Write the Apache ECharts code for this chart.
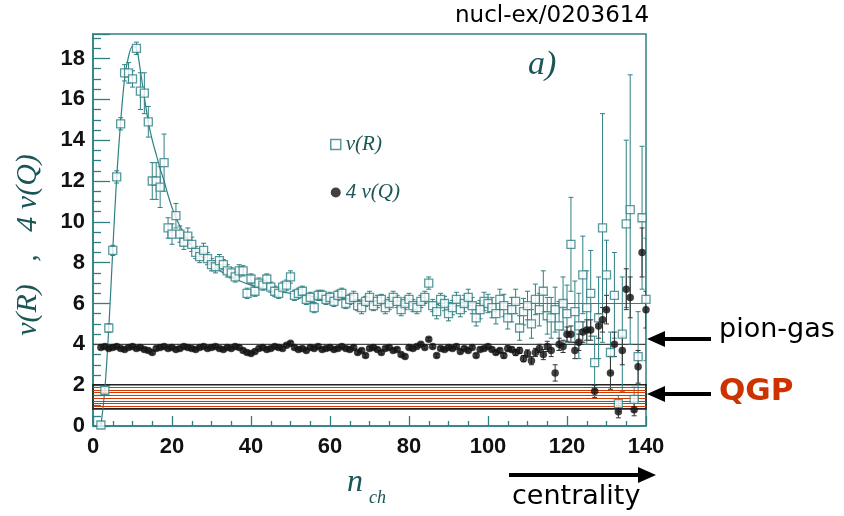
<!DOCTYPE html>
<html>
<head>
<meta charset="utf-8">
<script src="https://cdn.jsdelivr.net/npm/echarts@6/dist/echarts.min.js"></script>
<style>
html,body{margin:0;padding:0;background:#fff}
#chart{width:844px;height:516px}
</style>
</head>
<body>
<div id="chart"></div>
<script>
// n_ch bins (2..140)
const nCh = [
  2,3,4,5,6,7,8,9,10,11, 12,13,14,15,16,17,18,19,20,21,
  22,23,24,25,26,27,28,29,30,31, 32,33,34,35,36,37,38,39,40,41,
  42,43,44,45,46,47,48,49,50,51, 52,53,54,55,56,57,58,59,60,61,
  62,63,64,65,66,67,68,69,70,71, 72,73,74,75,76,77,78,79,80,81,
  82,83,84,85,86,87,88,89,90,91, 92,93,94,95,96,97,98,99,100,101,
  102,103,104,105,106,107,108,109,110,111, 112,113,114,115,116,117,118,119,120,121,
  122,123,124,125,126,127,128,129,130,131, 132,133,134,135,136,137,138,139,140
];
// v(R)
const vR = [
  0.05,1.75,4.8,8.6,12.2,14.8,17.3,17.3,17.0,18.5, 16.4,16.3,14.9,12.0,12.0,11.7,12.9,9.7,9.4,10.3,
  9.4,9.0,9.3,8.9,8.5,8.3,8.6,8.2,7.9,7.8, 8.1,7.9,7.6,7.5,7.3,7.6,7.6,6.5,7.2,6.6,
  7.0,6.9,7.2,6.8,6.6,6.5,6.8,6.9,7.3,6.4, 6.5,6.6,6.2,6.3,5.8,6.4,6.4,6.2,6.3,6.1,
  6.4,6.5,6.0,6.2,6.3,5.9,5.8,6.1,6.3,5.9, 6.1,6.2,5.8,6.0,6.3,6.1,5.7,6.0,6.2,5.9,
  5.8,6.1,6.3,7.0,5.9,5.6,6.2,6.0,5.5,5.8, 6.2,5.7,6.0,6.3,5.9,5.3,5.7,6.1,6.0,5.8,
  5.5,6.2,5.9,5.3,5.7,6.1,4.8,5.6,5.9,5.0, 6.2,5.7,6.6,5.4,5.3,5.7,4.9,6.0,5.5,8.9,
  5.6,4.9,7.4,5.8,6.5,3.1,5.3,9.7,7.4,3.6, 6.4,1.1,4.5,9.9,10.6,1.3,3.4,10.2,6.2
];
const errR = [
  0.1,0.15,0.2,0.25,0.3,0.3,0.4,0.5,0.4,0.3, 0.9,1.0,0.75,0.9,0.9,1.0,1.4,0.5,0.5,0.6,
  0.4,0.35,0.4,0.35,0.3,0.3,0.35,0.3,0.3,0.3, 0.3,0.25,0.3,0.25,0.25,0.3,0.25,0.25,0.25,0.25,
  0.25,0.25,0.25,0.25,0.25,0.25,0.25,0.25,0.3,0.25, 0.25,0.25,0.25,0.25,0.25,0.25,0.25,0.25,0.25,0.25,
  0.25,0.25,0.25,0.25,0.3,0.25,0.3,0.25,0.3,0.25, 0.3,0.25,0.3,0.3,0.3,0.3,0.3,0.3,0.3,0.3,
  0.3,0.3,0.3,0.3,0.3,0.35,0.3,0.35,0.35,0.35, 0.35,0.35,0.4,0.4,0.4,0.4,0.45,0.45,0.45,0.5,
  0.5,0.5,0.55,0.55,0.6,0.6,0.6,0.65,0.7,0.7, 0.75,0.8,1.0,0.9,1.0,1.1,1.2,1.3,1.4,2.3,
  1.5,1.6,1.9,1.8,2.1,1.3,2.0,5.6,1.7,1.0, 2.1,0.4,2.8,4.1,6.6,0.6,2.2,3.5,3.0
];
// 4 v(Q)
const vQ4 = [
  3.85,3.9,3.8,3.85,3.9,3.8,3.75,3.85,3.9,3.8, 3.85,3.75,3.7,3.6,3.8,3.85,3.9,3.8,3.85,3.75,
  3.8,3.9,3.85,3.8,3.75,3.85,3.9,3.8,3.85,3.9, 3.8,3.75,3.85,3.8,3.9,3.85,3.7,3.6,3.55,3.65,
  3.8,3.85,3.75,3.8,3.9,3.85,3.8,3.95,4.05,3.85, 3.75,3.8,3.7,3.85,3.8,3.9,3.75,3.8,3.85,3.75,
  3.8,3.9,3.8,3.75,3.85,3.6,3.7,3.45,3.8,3.85, 3.75,3.6,3.8,3.85,3.7,3.75,3.5,3.4,3.85,3.8,
  3.9,4.0,3.85,4.25,3.9,3.45,3.8,3.75,3.85,3.8, 3.9,3.65,3.8,3.7,3.85,3.45,3.75,3.8,3.9,3.75,
  3.6,3.7,3.45,3.8,3.75,3.6,3.7,3.3,3.55,3.2, 3.6,3.8,3.5,3.9,3.7,2.6,4.0,3.9,4.5,4.5,
  3.7,4.1,4.6,4.7,4.7,1.7,4.9,5.2,5.7,2.6, 4.0,0.7,3.7,6.7,6.3,0.8,2.9,8.5,5.7
];
const errQ4 = [
  0.08,0.08,0.08,0.08,0.08,0.08,0.08,0.08,0.08,0.08, 0.08,0.08,0.08,0.08,0.08,0.08,0.08,0.08,0.08,0.08,
  0.08,0.08,0.08,0.08,0.08,0.08,0.08,0.08,0.08,0.08, 0.08,0.08,0.08,0.08,0.08,0.08,0.08,0.08,0.08,0.08,
  0.08,0.08,0.08,0.08,0.08,0.08,0.08,0.08,0.08,0.08, 0.08,0.08,0.08,0.08,0.08,0.08,0.08,0.08,0.08,0.08,
  0.08,0.08,0.08,0.08,0.08,0.08,0.08,0.08,0.08,0.08, 0.08,0.08,0.08,0.08,0.08,0.08,0.08,0.08,0.08,0.08,
  0.08,0.08,0.08,0.08,0.08,0.08,0.08,0.08,0.08,0.08, 0.08,0.08,0.08,0.08,0.08,0.08,0.08,0.08,0.08,0.08,
  0.1,0.1,0.12,0.12,0.12,0.15,0.15,0.15,0.18,0.2, 0.2,0.2,0.25,0.25,0.3,0.4,0.3,0.3,0.35,0.4,
  0.4,0.4,0.5,0.5,0.5,0.3,0.6,0.6,0.7,0.8, 0.6,0.3,0.7,1.0,1.0,0.3,0.8,1.2,0.9
];
// fit curve through v(R)
const fitN = [2,3,4,5,6,7,8,9,10,11,12,13,14,15,16,17,18,19,20,21,22,24,26,28,30,33,36,40,45,50,55,60,70,80,90,100,110,120,130,140];
const fitV = [0,1.8,4.8,8.6,12.2,14.9,17.0,18.1,18.6,18.5,17.4,16.1,14.9,14.0,13.3,12.6,12.0,11.3,10.7,10.2,9.8,9.1,8.6,8.2,7.9,7.5,7.2,6.9,6.65,6.5,6.35,6.25,6.15,6.1,6.05,6.0,6.0,6.0,6.0,6.0];
const pionGasLevel = 4.0;
const qgpBand = [0.84, 2.02];
const qgpStripes = [0.97, 1.10, 1.23, 1.37, 1.50, 1.63, 1.76, 1.89];

const teal = '#2f8083';
const darkTeal = '#1b5557';

const chart = echarts.init(document.getElementById('chart'));

function errBar(color) {
  return function (params, api) {
    const x = api.value(0);
    const lo = api.coord([x, api.value(1)]);
    const hi = api.coord([x, api.value(2)]);
    const w = 2.5;
    const st = { stroke: color, lineWidth: 1 };
    return {
      type: 'group',
      children: [
        { type: 'line', shape: { x1: lo[0], y1: lo[1], x2: hi[0], y2: hi[1] }, style: st },
        { type: 'line', shape: { x1: hi[0] - w, y1: hi[1], x2: hi[0] + w, y2: hi[1] }, style: st },
        { type: 'line', shape: { x1: lo[0] - w, y1: lo[1], x2: lo[0] + w, y2: lo[1] }, style: st }
      ]
    };
  };
}

const rPts = nCh.map((n, i) => [n, vR[i]]);
const rErr = nCh.map((n, i) => [n, vR[i] - errR[i], vR[i] + errR[i]]);
const qPts = nCh.map((n, i) => [n, vQ4[i]]);
const qErr = nCh.map((n, i) => [n, vQ4[i] - errQ4[i], vQ4[i] + errQ4[i]]);
const fitPts = fitN.map((n, i) => [n, fitV[i]]);

// arrow pointing left, tip at (tipX, y)
const arrowL = (tipX, y) => ([
  { type: 'line', shape: { x1: tipX + 12, y1: y, x2: tipX + 64, y2: y }, style: { stroke: '#000', lineWidth: 4 } },
  { type: 'polygon', shape: { points: [[tipX, y], [tipX + 18, y - 8], [tipX + 18, y + 8]] }, style: { fill: '#000' } }
]);

const option = {
  animation: false,
  backgroundColor: '#fff',
  grid: {
    left: 93, right: 198, top: 34, bottom: 90,
    show: true, borderColor: teal, borderWidth: 1.5, backgroundColor: 'transparent'
  },
  legend: {
    left: 325, top: 129, orient: 'vertical', itemGap: 27,
    itemWidth: 10, itemHeight: 10,
    textStyle: { fontFamily: 'Liberation Serif', fontStyle: 'italic', fontSize: 21, color: darkTeal },
    data: [
      { name: 'v(R)', icon: 'rect', itemStyle: { color: '#fff', borderColor: teal, borderWidth: 1.5 } },
      { name: '4 v(Q)', icon: 'circle', itemStyle: { color: '#111' } }
    ]
  },
  xAxis: {
    type: 'value', min: 0, max: 140, interval: 20,
    axisLine: { lineStyle: { color: teal, width: 1.5 } },
    axisTick: { inside: true, length: 10, lineStyle: { color: teal, width: 1.3 } },
    minorTick: { show: true, splitNumber: 4, length: 5, lineStyle: { color: teal, width: 1.3 } },
    splitLine: { show: false },
    axisLabel: { margin: 10, color: '#111', fontFamily: 'Liberation Sans', fontWeight: 'bold', fontSize: 22 }
  },
  yAxis: {
    type: 'value', min: 0, max: 19.2, interval: 2,
    name: 'v(R)   ,   4 v(Q)    ', nameLocation: 'middle', nameGap: 50, nameRotate: 90,
    nameTextStyle: { fontFamily: 'Liberation Serif', fontStyle: 'italic', fontSize: 30, color: darkTeal },
    axisLine: { lineStyle: { color: teal, width: 1.5 } },
    axisTick: { inside: true, length: 17, lineStyle: { color: teal, width: 1.3 } },
    minorTick: { show: true, splitNumber: 4, length: 8, lineStyle: { color: teal, width: 1.3 } },
    splitLine: { show: false },
    axisLabel: { margin: 8, showMaxLabel: false, color: '#111', fontFamily: 'Liberation Sans', fontWeight: 'bold', fontSize: 22 }
  },
  series: [
    {
      name: 'pion-gas', type: 'line', data: [[0, pionGasLevel], [140, pionGasLevel]],
      showSymbol: false, silent: true, z: 2,
      lineStyle: { color: '#444', width: 1.3 },
      markArea: {
        silent: true,
        itemStyle: { color: 'rgba(0,0,0,0)', borderColor: '#222', borderWidth: 1.6 },
        data: [[{ xAxis: 0, yAxis: qgpBand[0] }, { xAxis: 140, yAxis: qgpBand[1] }]]
      },
      markLine: {
        silent: true, symbol: ['none', 'none'], label: { show: false },
        lineStyle: { color: '#d43a00', width: 1.1, type: 'solid' },
        data: qgpStripes.map(v => ({ yAxis: v }))
      }
    },
    {
      name: 'fit', type: 'line', data: fitPts, smooth: 0.3, showSymbol: false, silent: true, z: 3,
      lineStyle: { color: teal, width: 1.2 }
    },
    { type: 'custom', renderItem: errBar(teal), data: rErr, encode: { x: 0, y: [1, 2] }, clip: true, silent: true, z: 4 },
    { type: 'custom', renderItem: errBar('#333'), data: qErr, encode: { x: 0, y: [1, 2] }, clip: true, silent: true, z: 4 },
    {
      name: 'v(R)', type: 'scatter', data: rPts, symbol: 'rect', symbolSize: 8, z: 6,
      itemStyle: { color: '#fff', borderColor: teal, borderWidth: 1.3 }
    },
    {
      name: '4 v(Q)', type: 'scatter', data: qPts, symbol: 'circle', symbolSize: 7.5, z: 7,
      itemStyle: { color: '#111' }
    }
  ],
  graphic: [
    { type: 'text', left: 455, top: 5, style: { text: 'nucl-ex/0203614', font: '23px "DejaVu Sans"', fill: '#000' } },
    { type: 'text', left: 528, top: 48, style: { text: 'a)', font: 'italic 34px "Liberation Serif"', fill: darkTeal } },
    { type: 'text', left: 347, top: 467, style: { text: 'n', font: 'italic 32px "Liberation Serif"', fill: darkTeal } },
    { type: 'text', left: 369, top: 489, style: { text: 'ch', font: 'italic 18px "Liberation Serif"', fill: darkTeal } }
  ].concat(arrowL(647, 339), arrowL(647, 394), [
    { type: 'text', left: 719, top: 316, style: { text: 'pion-gas', font: '27px "DejaVu Sans"', fill: '#000' } },
    { type: 'text', left: 719, top: 376, style: { text: 'QGP', font: 'bold 31px "DejaVu Sans"', fill: '#cc3300' } },
    { type: 'line', shape: { x1: 509, y1: 475, x2: 642, y2: 475 }, style: { stroke: '#000', lineWidth: 4 } },
    { type: 'polygon', shape: { points: [[656, 475], [638, 467], [638, 483]] }, style: { fill: '#000' } },
    { type: 'text', left: 512, top: 483, style: { text: 'centrality', font: '27px "DejaVu Sans"', fill: '#000' } }
  ])
};

chart.setOption(option);
</script>
</body>
</html>
